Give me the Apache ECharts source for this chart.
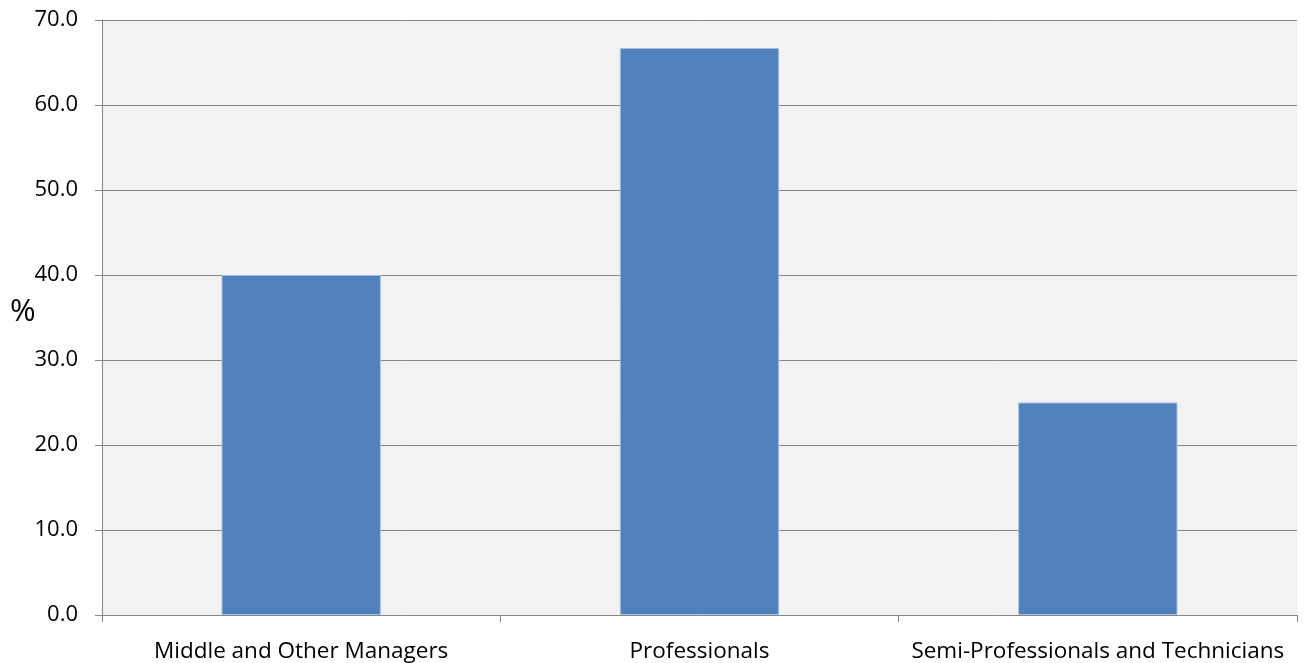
<!DOCTYPE html>
<html><head><meta charset="utf-8">
<script src="https://cdn.jsdelivr.net/npm/echarts@6/dist/echarts.min.js"></script>
<style>html,body{margin:0;padding:0;background:#fff}#c{width:1304px;height:663px}</style>
</head><body><div id="c"></div>
<script>
var categories = ["Middle and Other Managers", "Professionals", "Semi-Professionals and Technicians"];
var values = [40.0, 66.7, 25.0];
var yTicks = {min: 0, max: 70, interval: 10};
var yName = "%";

var chart = echarts.init(document.getElementById('c'), null, {renderer: 'canvas'});
var font = "'Open Sans', 'Liberation Sans', sans-serif";
chart.setOption({
  animation: false,
  grid: {left: 102, right: 7, top: 20, bottom: 48, show: true, backgroundColor: '#f2f2f2', borderWidth: 0},
  graphic: [{type: 'text', left: 10, top: 297, style: {text: yName, font: "31px " + font, fill: '#000'}}],
  xAxis: {
    type: 'category', data: categories,
    axisLine: {show: true, lineStyle: {color: '#868686', width: 1}},
    axisTick: {show: true, length: 7, lineStyle: {color: '#868686'}},
    axisLabel: {color: '#000', fontSize: 22.5, fontFamily: font, margin: 25, interval: 0}
  },
  yAxis: {
    type: 'value', min: yTicks.min, max: yTicks.max, interval: yTicks.interval,
    axisLine: {show: true, lineStyle: {color: '#868686', width: 1}},
    axisTick: {show: true, length: 7, lineStyle: {color: '#868686'}},
    splitLine: {show: true, lineStyle: {color: '#868686', width: 1}},
    axisLabel: {color: '#000', fontSize: 22, fontFamily: font, margin: 24, formatter: function(v){return v.toFixed(1);}}
  },
  series: [{
    type: 'bar', data: values, barWidth: '40%',
    itemStyle: {color: '#4f81bd', borderColor: '#a9c0de', borderWidth: 1}
  }]
});
</script></body></html>
